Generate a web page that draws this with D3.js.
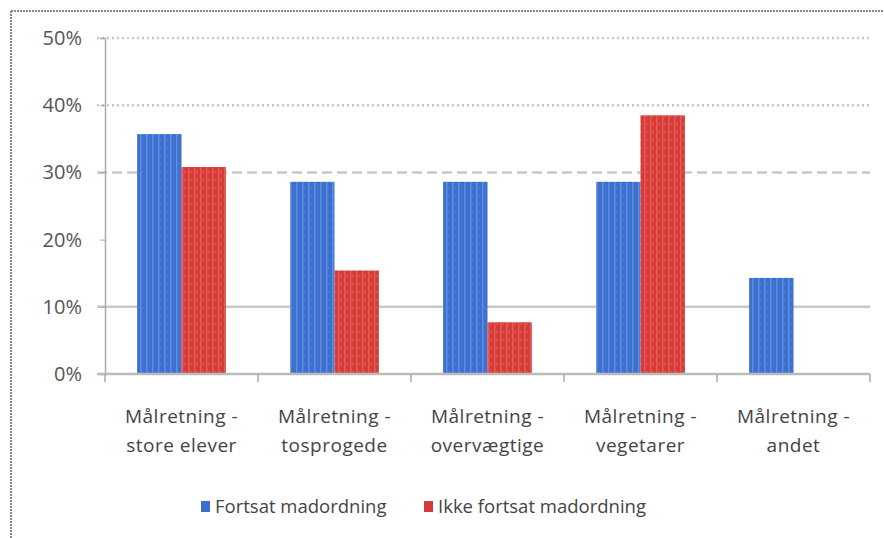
<!DOCTYPE html>
<html><head><meta charset="utf-8">
<script src="https://cdn.jsdelivr.net/npm/d3@7"></script>
<style>body{margin:0;background:#fff}svg{display:block}</style>
</head><body>
<script>
const categories = [["Målretning -","store elever"],["Målretning -","tosprogede"],["Målretning -","overvægtige"],["Målretning -","vegetarer"],["Målretning -","andet"]];
const seriesNames = ["Fortsat madordning","Ikke fortsat madordning"];
const fortsat = [0.357, 0.286, 0.286, 0.286, 0.143];
const ikkeFortsat = [0.308, 0.154, 0.077, 0.385, 0];
const yTicks = [0, 0.1, 0.2, 0.3, 0.4, 0.5];

const W = 884, H = 538;
const m = {l:105, r:14, t:38, b:164};
const FONT = "Open Sans, sans-serif";
const svg = d3.select("body").append("svg").attr("width", W).attr("height", H);
const defs = svg.append("defs");
function stripe(id, base, light, dot){
  const p = defs.append("pattern").attr("id", id).attr("patternUnits","userSpaceOnUse").attr("width",6).attr("height",8);
  p.append("rect").attr("width",6).attr("height",8).attr("fill",base);
  p.append("rect").attr("x",2).attr("width",1.5).attr("height",8).attr("fill",light);
  p.append("rect").attr("x",4.5).attr("y",3).attr("width",1).attr("height",2).attr("fill",dot);
}
stripe("pb", "#3b6fd0", "#5d8fe0", "#7a6cc8");
stripe("pr", "#d63a3a", "#e45a55", "#d7782e");
const colors = ["url(#pb)", "url(#pr)"];
const legendColors = ["#3b6fd0", "#d63a3a"];

// border
svg.append("line").attr("x1",11).attr("x2",W).attr("y1",11).attr("y2",11).attr("stroke","#888").attr("stroke-width",2).attr("stroke-dasharray","2,1");
svg.append("line").attr("x1",11).attr("x2",11).attr("y1",11).attr("y2",H).attr("stroke","#888").attr("stroke-width",2).attr("stroke-dasharray","2,1");

const x = d3.scaleBand().domain(d3.range(categories.length)).range([m.l, W - m.r]).paddingInner(0.42).paddingOuter(0.21);
const xb = d3.scaleBand().domain(d3.range(categories.length)).range([m.l, W - m.r]);
const y = d3.scaleLinear().domain([0, 0.5]).range([H - m.b, m.t]);
const x1 = d3.scaleBand().domain([0,1]).range([0, x.bandwidth()]);

// gridlines
const gridStyles = {0.5:"2,3", 0.4:"2,3", 0.3:"10,5", 0.2:null, 0.1:null};
yTicks.filter(t => t > 0 && t !== 0.2).forEach(t => {
  const g = svg.append("line").attr("x1", m.l - 8).attr("x2", W - m.r).attr("y1", y(t)).attr("y2", y(t))
    .attr("stroke", "#c8c8c8").attr("stroke-width", 2.5);
  if (gridStyles[t]) g.attr("stroke-dasharray", gridStyles[t]);
});

// bars
const series = [fortsat, ikkeFortsat];
series.forEach((vals, si) => {
  svg.append("g").selectAll("rect").data(vals).join("rect")
    .attr("x", (d,i) => x(i) + x1(si)).attr("width", x1.bandwidth())
    .attr("y", d => y(d)).attr("height", d => y(0) - y(d))
    .attr("fill", colors[si]);
});

// y axis
const ya = svg.append("g").attr("transform", `translate(${m.l},0)`)
  .call(d3.axisLeft(y).tickValues(yTicks).tickFormat(d3.format(".0%")).tickSize(5).tickPadding(18));
ya.select(".domain").attr("stroke","#aaa").attr("stroke-width",1.5);
ya.selectAll(".tick line").attr("stroke","#aaa");
ya.selectAll("text").attr("font-family",FONT).attr("font-size",20).attr("fill","#555");

// x axis
const xa = svg.append("g").attr("transform", `translate(0,${y(0)})`);
xa.append("line").attr("x1", m.l - 8).attr("x2", W - m.r).attr("stroke","#bbb").attr("stroke-width",2.5);
const bounds = d3.range(categories.length + 1).map(i => i < categories.length ? xb(i) : xb(i-1) + xb.bandwidth());
xa.selectAll(".tk").data(bounds).join("line").attr("x1", d=>d).attr("x2", d=>d).attr("y1",0).attr("y2",8).attr("stroke","#aaa").attr("stroke-width",1.5);
categories.forEach((c, i) => {
  const t = xa.append("text").attr("x", xb(i) + xb.bandwidth()/2).attr("text-anchor","middle")
    .attr("font-family",FONT).attr("font-size",19).attr("letter-spacing",0.5).attr("fill","#444");
  c.forEach((line, j) => t.append("tspan").attr("x", xb(i) + xb.bandwidth()/2).attr("y", 49 + j*29).text(line));
});

// legend
const leg = svg.append("g");
const lx = [201, 424];
seriesNames.forEach((n, i) => {
  leg.append("rect").attr("x", lx[i]).attr("y", 501).attr("width", 9).attr("height", 11).attr("fill", legendColors[i]);
  leg.append("text").attr("x", lx[i] + 14).attr("y", 513).attr("font-family",FONT).attr("font-size",18.5).attr("fill","#444").text(n);
});
</script>
</body></html>
